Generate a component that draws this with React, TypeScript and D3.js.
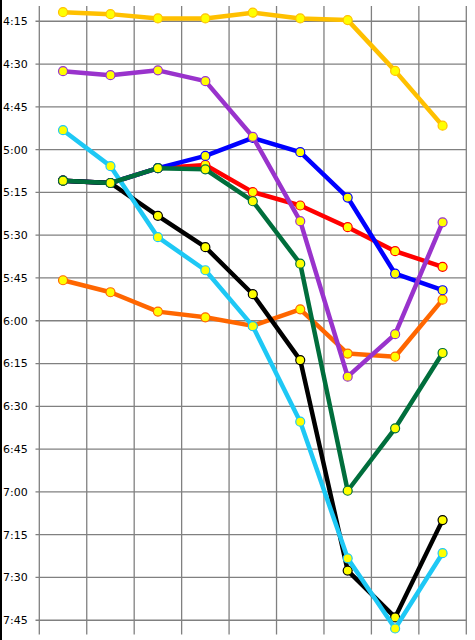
import { useRef, useEffect } from 'react';
import * as d3 from 'd3';

// Nine stages along the x axis (no labels shown)
const stages: number[] = [0, 1, 2, 3, 4, 5, 6, 7, 8];

// Y tick labels, every 15 minutes
const tickLabels: string[] = ['4:15', '4:30', '4:45', '5:00', '5:15', '5:30', '5:45', '6:00', '6:15', '6:30', '6:45', '7:00', '7:15', '7:30', '7:45'];

// Times in minutes after midnight
const orange: number[] = [345.8, 350.0, 356.8, 358.8, 361.8, 356.0, 371.5, 372.6, 352.6];
const red: number[] = [310.9, 311.7, 306.5, 305.4, 314.9, 319.6, 327.2, 335.6, 341.1];
const blue: number[] = [310.9, 311.7, 306.5, 302.2, 295.9, 300.9, 316.8, 343.5, 349.3];
const green: number[] = [310.9, 311.7, 306.5, 306.9, 318.1, 340.0, 419.6, 397.7, 371.3];
const purple: number[] = [272.5, 273.9, 272.2, 276.0, 295.5, 325.1, 379.6, 364.7, 325.5];
const black: number[] = [310.9, 311.7, 323.2, 334.2, 350.7, 373.8, 447.6, 464.0, 429.9];
const cyan: number[] = [293.2, 305.8, 330.7, 342.3, 361.9, 395.4, 443.3, 467.9, 441.5];
const gold: number[] = [251.8, 252.5, 254.0, 254.0, 252.0, 254.0, 254.6, 272.4, 291.6];

// drawing order: later series sit on top
const seriesList = [
  { values: orange, color: '#ff6600' },
  { values: red, color: '#ff0000' },
  { values: blue, color: '#0000ff' },
  { values: black, color: '#000000' },
  { values: cyan, color: '#1ec8f5' },
  { values: green, color: '#006e3c' },
  { values: purple, color: '#9933cc' },
  { values: gold, color: '#ffc000' },
];

function toMinutes(label: string): number {
  const [h, m] = label.split(':').map(Number);
  return h * 60 + m;
}

export default function App() {
  const chartRef = useRef<SVGSVGElement | null>(null);

  useEffect(() => {
    if (!chartRef.current) return;

    const width = 475;
    const height = 640;

    const svg = d3.select(chartRef.current)
      .attr('width', width)
      .attr('height', height);
    svg.selectAll('*').remove();

    svg.append('rect')
      .attr('width', width)
      .attr('height', height)
      .attr('fill', '#ffffff');

    const xScale = d3.scaleBand<number>()
      .domain(stages)
      .range([39.3, 466.3]);

    const yScale = d3.scaleLinear()
      .domain([250, 470])
      .range([7, 634.5]);

    const grid = svg.append('g')
      .attr('stroke', '#808080')
      .attr('stroke-width', 1.3);

    // Horizontal grid lines at each tick
    grid.selectAll('line.h')
      .data(tickLabels)
      .enter()
      .append('line')
      .attr('x1', 35.5)
      .attr('x2', 466.3)
      .attr('y1', (d) => yScale(toMinutes(d)))
      .attr('y2', (d) => yScale(toMinutes(d)));

    // Vertical grid lines at band edges
    const edges = stages.map((s) => xScale(s) || 0).concat([xScale.range()[1]]);
    grid.selectAll('line.v')
      .data(edges)
      .enter()
      .append('line')
      .attr('x1', (d) => d)
      .attr('x2', (d) => d)
      .attr('y1', yScale.range()[0] - 1)
      .attr('y2', yScale.range()[1]);

    // Tick labels
    svg.append('g')
      .selectAll('text')
      .data(tickLabels)
      .enter()
      .append('text')
      .text((d) => d)
      .attr('x', 3)
      .attr('y', (d) => yScale(toMinutes(d)))
      .attr('dy', '0.36em')
      .attr('font-family', 'DejaVu Sans, sans-serif')
      .attr('font-size', '11px')
      .attr('fill', '#000');

    // Left border
    svg.append('line')
      .attr('x1', 1)
      .attr('x2', 1)
      .attr('y1', 0)
      .attr('y2', height)
      .attr('stroke', '#000')
      .attr('stroke-width', 2);

    const line = d3.line<number>()
      .x((_, i) => (xScale(stages[i]) || 0) + xScale.bandwidth() / 2)
      .y((d) => yScale(d));

    seriesList.forEach((s) => {
      const g = svg.append('g');
      g.append('path')
        .datum(s.values)
        .attr('d', line)
        .attr('fill', 'none')
        .attr('stroke', s.color)
        .attr('stroke-width', 4.5)
        .attr('stroke-linejoin', 'round');

      g.selectAll('circle')
        .data(s.values)
        .enter()
        .append('circle')
        .attr('cx', (_, i) => (xScale(stages[i]) || 0) + xScale.bandwidth() / 2)
        .attr('cy', (d) => yScale(d))
        .attr('r', 4.5)
        .attr('fill', '#ffff00')
        .attr('stroke', s.color)
        .attr('stroke-width', 1.2);
    });
  }, []);

  return (
    <div style={{ position: 'fixed', left: 0, top: 0 }}>
      <svg ref={chartRef} style={{ display: 'block' }}></svg>
    </div>
  );
}
